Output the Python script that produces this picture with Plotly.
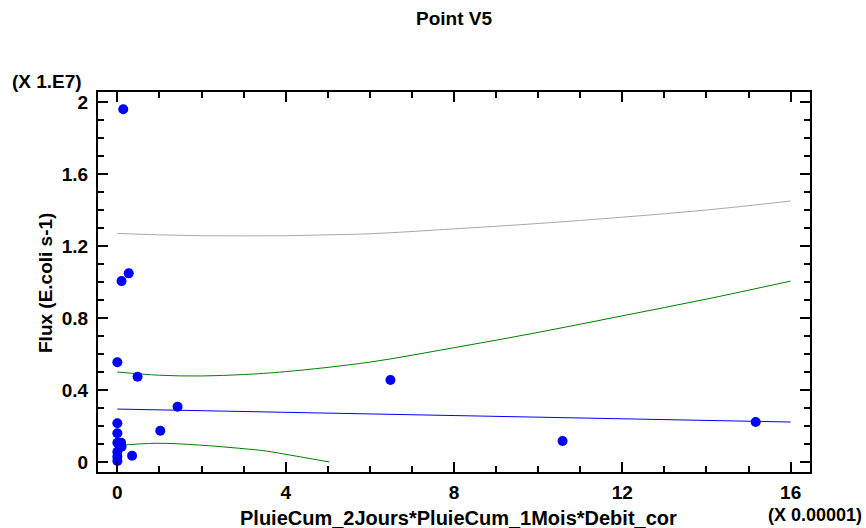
import plotly.graph_objects as go

# Observed points (x in units of 1e-5, flux in units of 1e7)
x_obs = [0.14, 0.10, 0.27, 0.00, 0.48, 1.43, 1.02, 0.35, 6.49, 10.58, 15.17,
         0.00, 0.00, 0.00, 0.09, 0.10, 0.00, 0.00, 0.00]
y_obs = [1.960, 1.005, 1.048, 0.554, 0.474, 0.307, 0.174, 0.035, 0.456, 0.117, 0.222,
         0.215, 0.160, 0.107, 0.107, 0.085, 0.057, 0.030, 0.006]

# Fitted line
fit_x = [0, 16]
fit_y = [0.294, 0.222]

# Confidence limits for the mean
conf_up_x = [0, 1, 2, 3, 4, 6, 8, 10, 12, 14, 16]
conf_up_y = [0.500, 0.482, 0.478, 0.486, 0.502, 0.555, 0.635, 0.720, 0.812, 0.905, 1.005]
conf_lo_x = [0, 0.92, 1.95, 2.9, 3.53, 4.09, 5.04]
conf_lo_y = [0.091, 0.104, 0.094, 0.076, 0.061, 0.039, 0.0]

# Upper prediction limit
pred_up_x = [0, 1, 2, 3, 4, 5, 6, 8, 10, 12, 14, 16]
pred_up_y = [1.270, 1.262, 1.257, 1.256, 1.257, 1.262, 1.268, 1.295, 1.325, 1.360, 1.400, 1.450]

x_ticks = [0, 4, 8, 12, 16]
y_ticks = [0, 0.4, 0.8, 1.2, 1.6, 2]

FONT = "Liberation Sans"
L, R, T, B = 98, 56, 92, 56
W, H = 866, 528
PW, PH = W - L - R, H - T - B


def px(v):
    return (v - L) / PW


def py(v):
    return (H - B - v) / PH


fig = go.Figure()
fig.add_trace(go.Scatter(x=pred_up_x, y=pred_up_y, mode="lines", line=dict(color="#a8a8a8", width=1, shape="spline"), hoverinfo="skip"))
fig.add_trace(go.Scatter(x=conf_up_x, y=conf_up_y, mode="lines", line=dict(color="#008000", width=1, shape="spline"), hoverinfo="skip"))
fig.add_trace(go.Scatter(x=conf_lo_x, y=conf_lo_y, mode="lines", line=dict(color="#008000", width=1, shape="spline"), hoverinfo="skip"))
fig.add_trace(go.Scatter(x=fit_x, y=fit_y, mode="lines", line=dict(color="#0000ff", width=1), hoverinfo="skip"))
fig.add_trace(go.Scatter(x=x_obs, y=y_obs, mode="markers", marker=dict(color="#0000ff", size=10, line=dict(width=0))))

axis_common = dict(
    showline=True, linecolor="black", linewidth=2, mirror="allticks",
    ticks="inside", ticklen=10, tickwidth=1.5, tickcolor="black",
    showgrid=False, zeroline=False,
    tickfont=dict(family=FONT, size=19, color="black", weight="bold"),
)

fig.update_xaxes(range=[-0.46, 16.46], tickvals=x_ticks, ticktext=[str(v) for v in x_ticks],
                 minor=dict(ticks="inside", ticklen=6, tickwidth=1.5, tickcolor="black", dtick=1, tick0=0),
                 ticklabelstandoff=2, **axis_common)
fig.update_yaxes(range=[-0.0556, 2.0556], tickvals=y_ticks, ticktext=["0", "0.4", "0.8", "1.2", "1.6", "2"],
                 minor=dict(ticks="inside", ticklen=6, tickwidth=1.5, tickcolor="black", dtick=0.1, tick0=0),
                 ticklabelstandoff=4, **axis_common)

bold = dict(family=FONT, color="black", weight="bold")
fig.update_layout(
    width=W, height=H,
    margin=dict(l=L, r=R, t=T, b=B),
    paper_bgcolor="white", plot_bgcolor="white",
    showlegend=False,
    title=dict(text="Point V5", xref="paper", x=px(454), xanchor="center", y=1 - 18 / H, yanchor="middle",
               font=dict(size=19, **bold)),
    annotations=[
        dict(text="(X 1.E7)", xref="paper", yref="paper", x=px(10), y=py(82), xanchor="left", yanchor="middle",
             showarrow=False, font=dict(size=19, **bold)),
        dict(text="(X 0.00001)", xref="paper", yref="paper", x=px(864), y=py(515), xanchor="right", yanchor="middle",
             showarrow=False, font=dict(size=18, **bold)),
        dict(text="PluieCum_2Jours*PluieCum_1Mois*Debit_cor", xref="paper", yref="paper", x=px(458), y=py(518),
             xanchor="center", yanchor="middle", showarrow=False, font=dict(size=20, **bold)),
        dict(text="Flux (E.coli s-1)", xref="paper", yref="paper", x=px(45), y=py(283), textangle=-90,
             xanchor="center", yanchor="middle", showarrow=False, font=dict(size=19, **bold)),
    ],
)

fig.write_html("out.html")
